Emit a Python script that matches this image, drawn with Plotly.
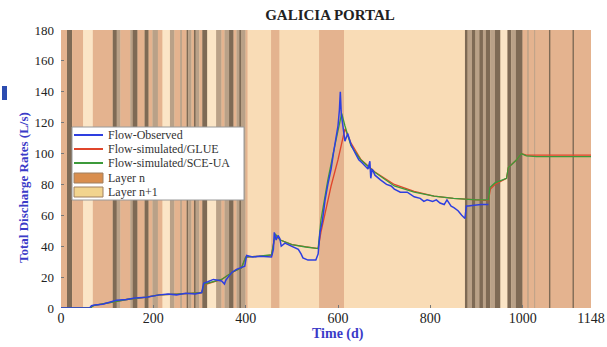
import plotly.graph_objects as go

# ---- Observed discharge (days, L/s) ----
obs_day = [0, 62, 66, 73, 90, 105, 120, 142, 160, 185, 200, 213, 232, 250, 270, 290, 305, 309, 318, 330,
           340, 348, 354, 357, 362, 370, 380, 391, 398, 402, 415, 430, 445, 456, 460, 462, 466, 470, 474, 477,
           485, 492, 505, 514, 520, 524, 535, 552, 557, 561, 566, 572, 578, 585, 590, 595, 600, 603, 605, 607,
           610, 615, 621, 628, 636, 645, 652, 658, 665, 669, 671, 674, 680, 692, 705, 715, 722, 735, 750, 765,
           778, 786, 793, 805, 813, 821, 830, 836, 845, 851, 860, 868, 875, 878, 882, 895, 910, 926]
obs_val = [0, 0, 1.5, 2, 2.5, 3.5, 5, 5.5, 6.5, 7, 8, 8.5, 9, 8.5, 9.5, 9, 10, 16, 17, 18.5,
           18, 17.5, 15.5, 18, 20, 23, 25, 26, 27, 34, 33, 33.5, 33, 33, 38, 49, 44, 47, 45, 40,
           42, 41, 39, 38, 35, 32.5, 31, 31, 35, 49, 56, 70, 80, 90, 100, 110, 118, 128, 140, 126,
           118, 108, 113, 106, 101, 96, 94, 92, 90, 95, 84, 90, 86, 83, 80, 79, 77, 75, 75, 72,
           71, 69, 70, 69, 70, 68, 67, 70, 66, 65, 63, 60, 58, 66, 66, 66.5, 67, 67]

# ---- Simulated discharge, GLUE calibration ----
glue_day = [0, 64, 70, 105, 142, 185, 213, 250, 305, 310, 348, 370, 391, 400, 430, 456, 464, 475, 500, 530,
            557, 563, 575, 585, 600, 615, 628, 650, 680, 722, 765, 808, 850, 900, 926, 930, 940, 965, 969, 987,
            997, 1008, 1030, 1148]
glue_val = [0, 0, 1.5, 3.5, 5.5, 7, 8.5, 9, 10, 15, 18.5, 23, 26, 33, 33.5, 34, 47, 44, 41, 39.5,
            38.5, 49, 66, 79, 96, 116, 107, 96, 88, 80, 75.5, 72.5, 71, 70, 69.5, 77, 80, 84, 91, 96,
            100, 99, 99, 99]

# ---- Simulated discharge, SCE-UA calibration ----
sce_day = [0, 64, 70, 105, 142, 185, 213, 250, 305, 310, 348, 370, 391, 400, 430, 456, 464, 475, 500, 530,
           557, 563, 578, 593, 604, 608, 615, 628, 649, 679, 722, 765, 808, 850, 900, 926, 929, 940, 965, 969,
           987, 997, 1008, 1030, 1148]
sce_val = [0, 0, 1.5, 3.5, 5.5, 7, 8.5, 9, 10, 15.5, 18.5, 23, 26, 33, 33.5, 34.5, 48, 44, 41, 39.5,
           38.5, 57, 83, 105, 122, 126, 118, 105, 96, 88, 79, 75, 72.5, 71, 70, 70, 78, 81, 84, 91,
           96, 100, 98.5, 98, 98]

# ---- Excavated layer intervals (days) ----
band_from = [0, 13, 24, 48, 69, 112, 121, 129, 150, 155, 166, 181, 190, 198, 210, 220, 236, 246, 258, 262,
             272, 276, 283, 288, 292, 300, 306, 317, 336, 348, 354, 364, 374, 380, 386, 391, 400, 455, 559,
             875, 881, 890, 898, 906, 914, 920, 930, 940, 952, 967, 975, 985, 1000, 1010, 1025, 1057, 1108]
band_to = [13, 24, 48, 69, 112, 121, 129, 150, 155, 166, 181, 190, 198, 210, 220, 236, 246, 258, 262, 272,
           276, 283, 288, 292, 300, 306, 317, 336, 348, 354, 364, 374, 380, 386, 391, 400, 404, 473, 613,
           881, 890, 898, 906, 914, 920, 930, 940, 952, 967, 975, 985, 1000, 1148, 1013, 1027, 1060, 1111]
band_kind = ["T", "D", "T", "L", "T", "D", "G", "T", "G", "D", "T", "D", "T", "G", "T", "L", "G", "T", "G", "T",
             "D", "G", "T", "D", "G", "T", "D", "L", "G", "T", "G", "D", "T", "G", "D", "G", "T", "T", "T",
             "D", "G", "D", "G", "D", "G", "D", "G", "D", "L", "D", "G", "D", "T", "G", "G", "D", "D"]

x_ticks = [0, 200, 400, 600, 800, 1000, 1148]
y_ticks = [0, 20, 40, 60, 80, 100, 120, 140, 160, 180]

band_colors = {"D": "#7E6A55", "G": "#B9A188", "T": "#E4B38F", "L": "#FBE5C6"}
serif = "Liberation Serif, Times New Roman, serif"
blue_text = "#3B3BC8"

fig = go.Figure()

fig.add_trace(go.Scatter(x=glue_day, y=glue_val, mode="lines",
                         line=dict(color="#E0452B", width=1.3), showlegend=False))
fig.add_trace(go.Scatter(x=sce_day, y=sce_val, mode="lines",
                         line=dict(color="#3C9A3A", width=1.3), showlegend=False))
fig.add_trace(go.Scatter(x=obs_day, y=obs_val, mode="lines",
                         line=dict(color="#2E3FE0", width=1.5), showlegend=False))

shapes = []
for a, b, k in zip(band_from, band_to, band_kind):
    shapes.append(dict(type="rect", xref="x", yref="paper", x0=a, x1=b, y0=0, y1=1,
                       fillcolor=band_colors[k], line=dict(width=0), layer="below"))

# plot area in pixels: left, width, bottom, height
L, W, T0, B0 = 61, 530, 308, 278


def px(xp):
    return (xp - L) / W


def py(yp):
    return (T0 - yp) / B0


# legend box drawn in paper coordinates
shapes.append(dict(type="rect", xref="paper", yref="paper", x0=px(72), x1=px(244), y0=py(200), y1=py(127),
                   fillcolor="white", line=dict(color="#9A9A9A", width=1)))
rows = [135, 149, 163, 178, 192]
labels = ["Flow-Observed", "Flow-simulated/GLUE", "Flow-simulated/SCE-UA", "Layer n", "Layer n+1"]
line_cols = ["#2E3FE0", "#E0452B", "#3C9A3A"]
for r, c in zip(rows[:3], line_cols):
    shapes.append(dict(type="line", xref="paper", yref="paper", x0=px(74), x1=px(103), y0=py(r), y1=py(r),
                       line=dict(color=c, width=2)))
for r, c in zip(rows[3:], ["#D98E4E", "#F2D48E"]):
    shapes.append(dict(type="rect", xref="paper", yref="paper", x0=px(74), x1=px(103), y0=py(r + 5), y1=py(r - 5),
                       fillcolor=c, line=dict(color="#A08060", width=1)))
# small blue mark at the left margin
shapes.append(dict(type="rect", xref="paper", yref="paper", x0=px(2), x1=px(7), y0=py(100), y1=py(86),
                   fillcolor="#2C4CB0", line=dict(width=0)))

annotations = []
for r, t in zip(rows, labels):
    annotations.append(dict(x=px(106), y=py(r), xref="paper", yref="paper", text=t, showarrow=False,
                            xanchor="left", yanchor="middle", font=dict(family=serif, size=12, color="#333333")))
# axis titles
annotations.append(dict(x=px(338), y=py(334), xref="paper", yref="paper", text="<b>Time (d)</b>",
                        showarrow=False, xanchor="center", yanchor="middle",
                        font=dict(family=serif, size=14, color=blue_text)))
annotations.append(dict(x=px(23), y=py(188), xref="paper", yref="paper", text="<b>Total Discharge Rates (L/s)</b>",
                        showarrow=False, xanchor="center", yanchor="middle", textangle=-90,
                        font=dict(family=serif, size=13, color=blue_text)))

fig.update_layout(
    width=607, height=347,
    margin=dict(l=61, r=16, t=30, b=39),
    paper_bgcolor="white",
    plot_bgcolor="#F9DCB6",
    shapes=shapes,
    annotations=annotations,
    showlegend=False,
    title=dict(text="<b>GALICIA PORTAL</b>", x=(330 / 607), xanchor="center", y=1 - 15 / 347, yanchor="middle",
               font=dict(family=serif, size=15, color="#222222")),
)
fig.update_xaxes(range=[0, 1148], tickvals=x_ticks, showgrid=False, zeroline=False, automargin=False,
                 ticks="inside", ticklen=3, tickcolor="#777777", ticklabeloverflow="allow",
                 tickfont=dict(family=serif, size=14, color="#222222"))
fig.update_yaxes(range=[0, 180], tickvals=y_ticks, showgrid=False, zeroline=False, automargin=False,
                 ticks="inside", ticklen=3, tickcolor="#777777", ticklabelstandoff=6,
                 tickfont=dict(family=serif, size=13, color="#222222"))

fig.write_html("out.html")
